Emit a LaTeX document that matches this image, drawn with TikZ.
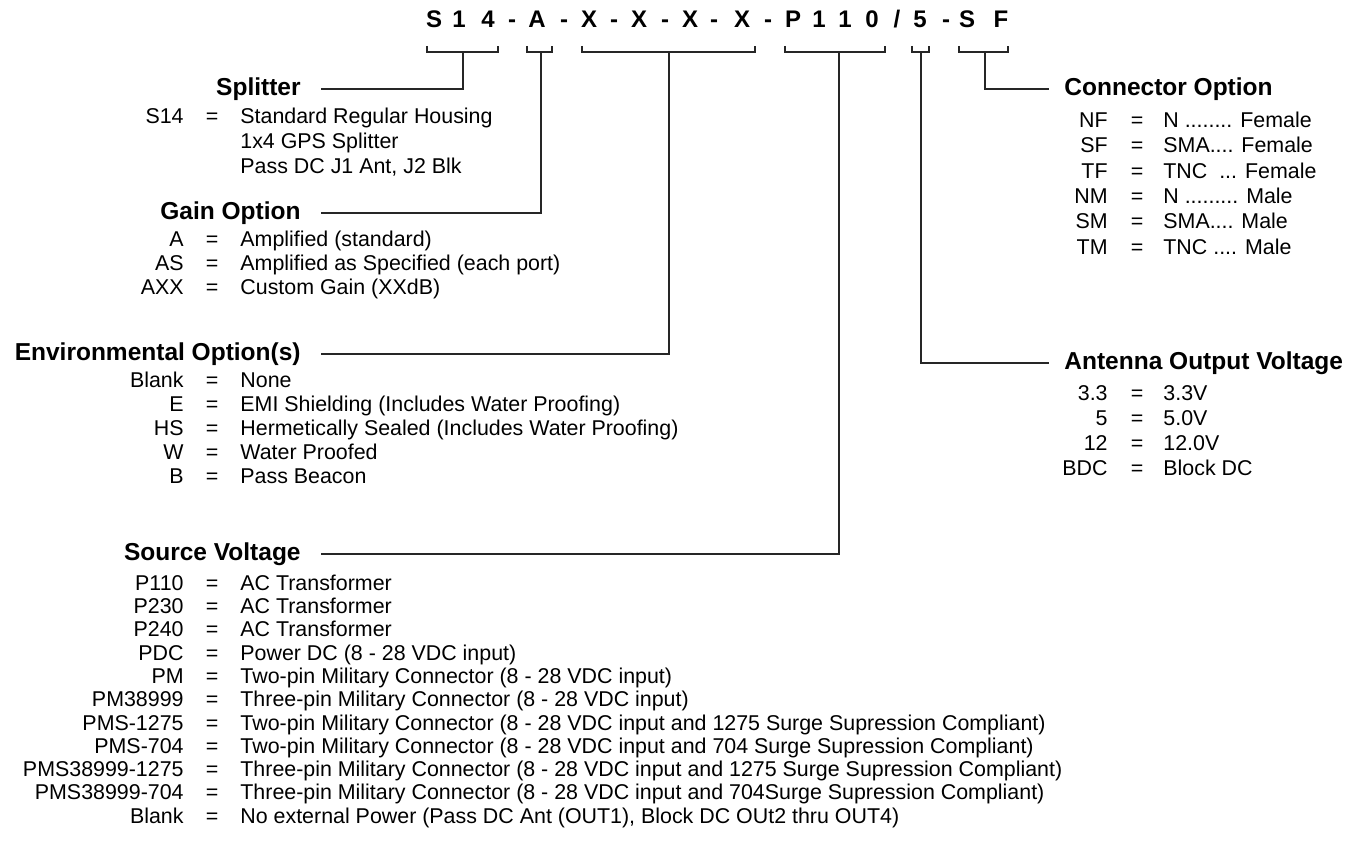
\documentclass[tikz,border=0pt]{standalone}
\usepackage{fontspec}
\setmainfont{Liberation Sans}
\usetikzlibrary{calc}
\tikzset{
  codechar/.style={font=\fontsize{12}{14}\selectfont\bfseries, anchor=base, inner sep=0pt},
  ttl/.style={font=\fontsize{12.25}{14}\selectfont\bfseries, inner ysep=0pt},
  ttlL/.style={ttl, anchor=east, inner xsep=10pt},
  ttlR/.style={ttl, anchor=west, inner xsep=7.5pt},
  keytxt/.style={font=\fontsize{10.7}{12}\selectfont, anchor=mid east, inner sep=0pt},
  eqtxt/.style={font=\fontsize{10.7}{12}\selectfont, anchor=mid, inner sep=0pt},
  valtxt/.style={font=\fontsize{10.7}{12}\selectfont, anchor=mid west, inner sep=0pt},
  lead/.style={line width=0.6pt, black!85}
}

\begin{document}
\begin{tikzpicture}[x=5pt, y=-5pt]
        \useasboundingbox (0,0) rectangle (136.6,85.5);

        % part number
        \foreach \c/\x [count=\i from 0] in {S/43.4, 1/45.9, 4/48.8, -/51.2, A/53.7, -/56.4,
                X/58.9, -/61.4, X/63.9, -/66.5, X/69.0, -/71.4, X/74.2, -/76.8,
                P/79.3, 1/81.9, 1/84.5, 0/87.2, {/}/89.7, 5/92.0, -/94.6, S/96.7, F/100.1}{
            \node[codechar] (c\i) at (\x, 2.75) {\c};
        }

        % titles
        \node[ttlL] (t-spl)  at (32.1, 8.9)  {Splitter};
        \node[ttlL] (t-gain) at (32.1, 21.3) {Gain Option};
        \node[ttlL] (t-env)  at (32.1, 35.4) {Environmental Option(s)};
        \node[ttlL] (t-src)  at (32.1, 55.4) {Source Voltage};
        \node[ttlR] (t-con)  at (104.9, 8.9) {Connector Option};
        \node[ttlR] (t-ant)  at (104.9, 36.3) {Antenna Output Voltage};

        % brackets and leaders
        \foreach \l/\r/\m/\t in {42.7/49.8/46.3/spl, 52.7/55.2/54.1/gain,
                                 58.2/75.5/66.9/env, 78.5/88.5/83.9/src,
                                 91.2/92.9/92.1/ant, 95.9/100.8/98.5/con}{
            \draw[lead] (\l,4.6) -- (\l,5.2) -- (\r,5.2) -- (\r,4.6);
            \coordinate (b-\t) at (\m,5.2);
            \draw[lead] (b-\t) |- (t-\t);
        }

        % Splitter block
        \node[keytxt] (spl-k0) at (18.4,11.8) {S14};
        \node[eqtxt]  (spl-e0) at (21.2,11.8) {=};
        \node[valtxt] (spl-v0) at (24.0,11.8) {Standard Regular Housing};
        \node[valtxt] (spl-v1) at (24.0,14.3) {1x4 GPS Splitter};
        \node[valtxt] (spl-v2) at (24.0,16.8) {Pass DC J1 Ant, J2 Blk};

        % Gain block
        \foreach \k/\v [count=\i from 0] in {A/Amplified (standard),
                AS/Amplified as Specified (each port), AXX/Custom Gain (XXdB)}{
            \node[keytxt] (gain-k\i) at (18.4,{24.1+2.4*\i}) {\k};
            \node[eqtxt]  (gain-e\i) at (21.2,{24.1+2.4*\i}) {=};
            \node[valtxt] (gain-v\i) at (24.0,{24.1+2.4*\i}) {\v};
        }

        % Environmental block
        \foreach \k/\v [count=\i from 0] in {Blank/None,
                E/EMI Shielding (Includes Water Proofing),
                HS/Hermetically Sealed (Includes Water Proofing),
                W/Water Proofed, B/Pass Beacon}{
            \node[keytxt] (env-k\i) at (18.4,{38.2+2.4*\i}) {\k};
            \node[eqtxt]  (env-e\i) at (21.2,{38.2+2.4*\i}) {=};
            \node[valtxt] (env-v\i) at (24.0,{38.2+2.4*\i}) {\v};
        }

        % Source block
        \foreach \k/\v [count=\i from 0] in {P110/AC Transformer, P230/AC Transformer,
                P240/AC Transformer, PDC/Power DC (8 - 28 VDC input),
                PM/Two-pin Military Connector (8 - 28 VDC input),
                PM38999/Three-pin Military Connector (8 - 28 VDC input),
                PMS-1275/Two-pin Military Connector (8 - 28 VDC input and 1275 Surge Supression Compliant),
                PMS-704/Two-pin Military Connector (8 - 28 VDC input and 704 Surge Supression Compliant),
                PMS38999-1275/Three-pin Military Connector (8 - 28 VDC input and 1275 Surge Supression Compliant),
                PMS38999-704/Three-pin Military Connector (8 - 28 VDC input and 704Surge Supression Compliant),
                {Blank/No external Power (Pass DC Ant (OUT1), Block DC OUt2 thru OUT4)}}{
            \node[keytxt] (src-k\i) at (18.4,{58.5+2.33*\i}) {\k};
            \node[eqtxt]  (src-e\i) at (21.2,{58.5+2.33*\i}) {=};
            \node[valtxt] (src-v\i) at (24.0,{58.5+2.33*\i}) {\v};
        }

        % Connector block
        \foreach \k/\v [count=\i from 0] in {{NF/{N ........ Female}}, {SF/{SMA.... Female}},
                {TF/{TNC \ ... Female}}, {NM/{N ......... Male}}, {SM/{SMA.... Male}},
                {TM/{TNC .... Male}}}{
            \node[keytxt] (con-k\i) at (110.8,{12.2+2.54*\i}) {\k};
            \node[eqtxt]  (con-e\i) at (113.7,{12.2+2.54*\i}) {=};
            \node[valtxt] (con-v\i) at (116.3,{12.2+2.54*\i}) {\v};
        }

        % Antenna block
        \foreach \k/\v [count=\i from 0] in {3.3/3.3V, 5/5.0V, 12/12.0V, BDC/Block DC}{
            \node[keytxt] (ant-k\i) at (110.8,{39.5+2.5*\i}) {\k};
            \node[eqtxt]  (ant-e\i) at (113.7,{39.5+2.5*\i}) {=};
            \node[valtxt] (ant-v\i) at (116.3,{39.5+2.5*\i}) {\v};
        }

    \end{tikzpicture}
\end{document}
